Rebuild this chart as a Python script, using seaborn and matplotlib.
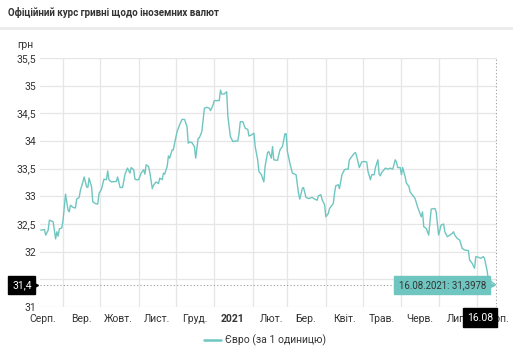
import numpy as np
import pandas as pd
import matplotlib
matplotlib.use("Agg")
import matplotlib.pyplot as plt
import matplotlib.dates as mdates
import matplotlib.transforms as mtransforms
from matplotlib.lines import Line2D
import seaborn as sns

# ---------------- data ----------------
title = "Офіційний курс гривні щодо іноземних валют"
unit_label = "грн"
series_name = "Євро (за 1 одиницю)"
start_date = "2020-08-16"
last_date_label = "16.08.2021"
short_last_label = "16.08"

day_offsets = [
    -2, 1, 2, 4, 5, 8, 10, 11, 12, 13, 15, 16, 18, 20, 21, 22, 24, 26, 27, 29,
    30, 32, 33, 35, 36, 37, 39, 40, 42, 44, 45, 47, 49, 51, 52, 53, 55, 59, 60, 62,
    64, 66, 68, 70, 71, 73, 74, 75, 77, 79, 81, 82, 83, 85, 86, 88, 89, 91, 93, 94,
    96, 97, 98, 100, 101, 102, 104, 105, 106, 108, 110, 112, 114, 116, 117, 118, 120, 122, 123, 125,
    126, 128, 130, 132, 134, 135, 137, 138, 140, 142, 143, 144, 146, 148, 149, 151, 153, 155, 157, 158,
    159, 161, 163, 165, 166, 168, 170, 171, 173, 174, 176, 178, 179, 181, 182, 184, 185, 186, 189, 191,
    193, 195, 196, 197, 199, 201, 204, 206, 207, 209, 210, 212, 214, 217, 219, 221, 222, 224, 225, 227,
    228, 230, 231, 234, 235, 236, 238, 239, 241, 243, 244, 246, 247, 249, 251, 252, 253, 255, 257, 259,
    261, 262, 264, 265, 267, 268, 270, 271, 272, 273, 275, 276, 278, 280, 282, 284, 285, 286, 288, 289,
    290, 292, 293, 295, 296, 299, 300, 302, 303, 305, 306, 307, 309, 311, 312, 313, 316, 317, 319, 321,
    323, 324, 326, 328, 330, 331, 332, 334, 336, 338, 340, 343, 344, 346, 348, 349, 351, 353, 355, 356,
    358, 359, 362, 365,
]
eur_rates = [
    32.39, 32.40, 32.30, 32.39, 32.57, 32.54, 32.23, 32.36, 32.28, 32.41, 32.43, 32.57, 33.04, 32.75, 32.72, 32.84, 32.80, 32.79, 32.95, 32.98,
    33.11, 33.26, 33.35, 33.17, 33.16, 33.33, 33.17, 32.90, 32.87, 32.86, 33.05, 33.13, 33.31, 33.30, 33.46, 33.30, 33.26, 33.27, 33.35, 33.16,
    33.16, 33.40, 33.51, 33.42, 33.52, 33.48, 33.31, 33.30, 33.30, 33.42, 33.48, 33.40, 33.57, 33.54, 33.43, 33.14, 33.20, 33.26, 33.23, 33.33,
    33.30, 33.42, 33.40, 33.54, 33.73, 33.69, 33.84, 33.84, 33.96, 34.17, 34.29, 34.39, 34.39, 34.26, 33.96, 33.98, 33.97, 33.90, 33.69, 34.05,
    34.06, 34.17, 34.59, 34.61, 34.59, 34.55, 34.65, 34.73, 34.73, 34.73, 34.92, 34.85, 34.85, 34.89, 34.44, 34.08, 33.99, 34.00, 34.00, 34.14,
    34.35, 34.35, 34.23, 34.21, 34.09, 34.11, 34.14, 33.90, 33.66, 33.45, 33.39, 33.26, 33.54, 33.79, 33.81, 33.69, 33.90, 33.66, 33.65, 33.84,
    33.90, 34.13, 34.13, 33.81, 33.60, 33.42, 33.39, 33.05, 32.95, 33.14, 33.16, 32.98, 32.96, 32.98, 32.95, 32.93, 33.01, 33.03, 32.94, 32.85,
    32.63, 32.69, 32.78, 32.87, 33.05, 33.19, 33.21, 33.14, 33.39, 33.48, 33.49, 33.49, 33.66, 33.72, 33.78, 33.79, 33.71, 33.52, 33.62, 33.63,
    33.62, 33.45, 33.30, 33.39, 33.39, 33.52, 33.66, 33.40, 33.37, 33.43, 33.48, 33.51, 33.49, 33.51, 33.49, 33.66, 33.62, 33.52, 33.52, 33.39,
    33.52, 33.35, 33.24, 33.18, 33.08, 32.99, 32.96, 32.81, 32.75, 32.63, 32.72, 32.45, 32.42, 32.30, 32.54, 32.77, 32.78, 32.72, 32.30, 32.48,
    32.50, 32.36, 32.27, 32.30, 32.33, 32.36, 32.30, 32.24, 32.21, 32.06, 32.03, 32.02, 31.85, 31.79, 31.70, 31.91, 31.90, 31.88, 31.91, 31.88,
    31.67, 31.52, 31.45, 31.3978,
]
month_labels = ["Серп.", "Вер.", "Жовт.", "Лист.", "Груд.", "2021", "Лют.",
                "Бер.", "Квіт.", "Трав.", "Черв.", "Лип.", "Серп."]
y_ticks = [31, 31.5, 32, 32.5, 33, 33.5, 34, 34.5, 35, 35.5]

# ---------------- style ----------------
TEAL = "#6fc6c0"
TEXT = "#333333"
GRID = "#e6e6e6"

sns.set_theme(style="white")
plt.rcParams["font.family"] = ["Roboto", "DejaVu Sans"]

dates = pd.to_datetime(start_date) + pd.to_timedelta(day_offsets, unit="D")
df = pd.DataFrame({"date": dates, "rate": eur_rates})

W, H = 513, 350
fig = plt.figure(figsize=(W / 100, H / 100), dpi=100)
fig.patch.set_facecolor("white")
ax = fig.add_axes([40 / W, 1 - 307 / H, 457 / W, 249 / H])

sns.lineplot(data=df, x="date", y="rate", ax=ax, color=TEAL, linewidth=1.0,
             legend=False, zorder=3)

start_num = mdates.date2num(pd.Timestamp(start_date))
ax.set_xlim(start_num - 2.6, start_num + 366.1)
ax.set_ylim(y_ticks[0], y_ticks[-1])

# y ticks
ax.set_yticks(y_ticks)
ax.set_yticklabels([(f"{v:g}").replace(".", ",") for v in y_ticks])

# x ticks: labels mid-month, grid at month starts
month_starts = pd.date_range("2020-08-01", periods=13, freq="MS")
label_pos = month_starts + pd.Timedelta(days=15)
grid_pos = month_starts[1:]
ax.set_xticks(mdates.date2num(label_pos))
ax.set_xticklabels(month_labels)
ax.set_xticks(mdates.date2num(grid_pos), minor=True)
for lbl in ax.get_xticklabels():
    if lbl.get_text() == "2021":
        lbl.set_fontweight("bold")

ax.tick_params(axis="both", which="both", length=0, labelsize=7.5, colors=TEXT)
ax.tick_params(axis="x", pad=5)
ax.tick_params(axis="y", pad=3)
ax.grid(False)
ax.grid(True, axis="y", which="major", color=GRID, linewidth=0.9)
ax.grid(True, axis="x", which="minor", color=GRID, linewidth=0.9)
ax.set_xlabel("")
ax.set_ylabel("")
for s in ax.spines.values():
    s.set_visible(False)

# crosshair at last point
last_val = eur_rates[-1]
last_x = mdates.date2num(dates[-1])
ax.axhline(last_val, color="#9a9a9a", linewidth=0.8, linestyle=(0, (1, 2)), zorder=2)
ax.axvline(last_x, color="#9a9a9a", linewidth=0.8, linestyle=(0, (1, 2)), zorder=2)

# left black value label
blend_y = mtransforms.blended_transform_factory(ax.transAxes, ax.transData)
ax.annotate(f"{last_val:.1f}".replace(".", ","), xy=(0, last_val), xycoords=blend_y,
            xytext=(-6, 0), textcoords="offset points", ha="right", va="center",
            color="white", fontsize=7.5, annotation_clip=False, zorder=6,
            bbox=dict(boxstyle="square,pad=0.35", fc="black", ec="black"))
ax.plot([0], [last_val], marker=">", markersize=4.5, color="black",
        transform=mtransforms.offset_copy(blend_y, fig=fig, x=-3.3, y=0, units="points"),
        clip_on=False, zorder=6)

# teal tooltip
tooltip_text = f"{last_date_label}: " + f"{last_val:.4f}".replace(".", ",")
ax.annotate(tooltip_text, xy=(last_x, last_val), xycoords="data",
            xytext=(-7, 0), textcoords="offset points", ha="right", va="center",
            color=TEXT, fontsize=6.9, zorder=7, annotation_clip=False,
            bbox=dict(boxstyle="square,pad=0.45", fc=TEAL, ec=TEAL))
ax.plot([last_x], [last_val], marker=">", markersize=4.5, color=TEAL,
        transform=mtransforms.offset_copy(ax.transData, fig=fig, x=-3.5, y=0, units="points"),
        clip_on=False, zorder=7)

# bottom black date label
blend_x = mtransforms.blended_transform_factory(ax.transData, ax.transAxes)
ax.annotate(short_last_label, xy=(last_x, 0), xycoords=blend_x,
            xytext=(-2, -4), textcoords="offset points", ha="right", va="top",
            color="white", fontsize=7.5, zorder=8, annotation_clip=False,
            bbox=dict(boxstyle="square,pad=0.4", fc="black", ec="black"))

# title, separator and unit
fig.text(8 / W, 1 - 12 / H, title, ha="left", va="center", fontsize=7.0,
         fontweight="bold", color=TEXT)
fig.add_artist(Line2D([0, 1], [1 - 27.5 / H, 1 - 27.5 / H], transform=fig.transFigure,
                      color="#ebebeb", linewidth=2))
fig.text(17 / W, 1 - 45 / H, unit_label, ha="left", va="center", fontsize=7.5, color=TEXT)

# legend
handle = Line2D([], [], color=TEAL, linewidth=1.8)
fig.legend([handle], [series_name], loc="center", bbox_to_anchor=(0.517, 1 - 340 / H),
           frameon=False, fontsize=7.5, handlelength=1.6, handletextpad=0.4,
           labelcolor=TEXT)

fig.savefig("out.png", dpi=100, facecolor="white")
